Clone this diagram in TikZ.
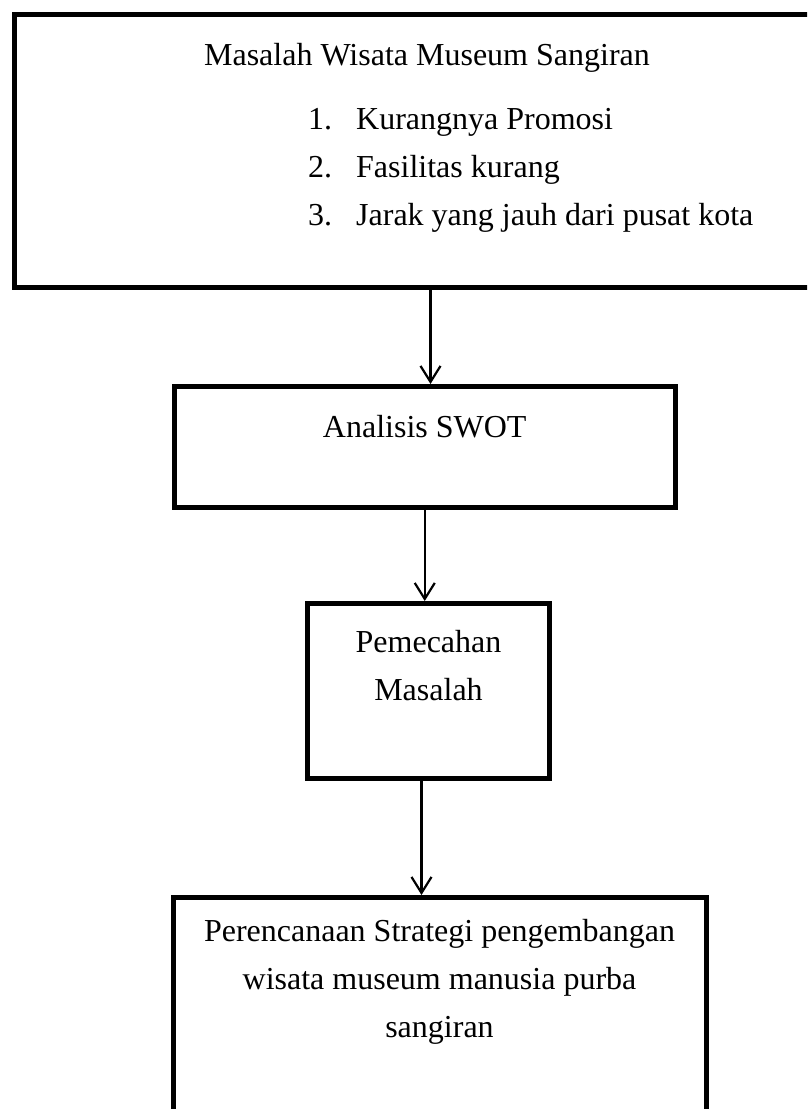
\documentclass[tikz,border=0pt]{standalone}
\usepackage{fontspec}
\setmainfont{Liberation Serif}
\usepackage{tikz}
\usetikzlibrary{arrows.meta,calc,positioning}
\tikzset{
  >={Straight Barb[length=16pt,width=20pt]}
}

\begin{document}
\begin{tikzpicture}[
    x=1pt,y=-1pt,
    font=\fontsize{32}{48}\selectfont,
    kotak/.style={rectangle,draw,line width=5pt,inner sep=0pt,anchor=north west},
    teks/.style={inner sep=0pt,anchor=base},
    panah/.style={->,line width=2.2pt}
  ]
    \useasboundingbox (0,0) rectangle (807,1109);
    \clip (0,0) rectangle (807,1109);

    \node (masalah) at (11.5,11.5) [kotak,minimum width=833,minimum height=273.5] {};
    \node (analisis) at (172,384) [kotak,minimum width=500.5,minimum height=121] {};
    \node (pemecahan) at (305,601) [kotak,minimum width=242,minimum height=175] {};
    \node (rencana) at (170.5,895) [kotak,minimum width=533,minimum height=245] {};

    % base of a multi-line node is its last line
    \node (judul) at ($(masalah.north)+(-3.5,54)$) [teks] {Masalah Wisata Museum Sangiran};
    \node (daftar) at (308,225) [teks,anchor=base west,align=left]
      {\makebox[48pt][l]{1.}Kurangnya Promosi\\\makebox[48pt][l]{2.}Fasilitas kurang\\\makebox[48pt][l]{3.}Jarak yang jauh dari pusat kota};
    \node (swot) at ($(analisis.north)+(0,53)$) [teks] {Analisis SWOT};
    \node (pecah) at ($(pemecahan.north)+(0,99)$) [teks,align=center] {Pemecahan\\Masalah};
    \node (strategi) at ($(rencana.north)+(0,142)$) [teks,align=center]
      {Perencanaan Strategi pengembangan\\wisata museum manusia purba\\sangiran};

    \draw[panah] (masalah.south) -- (masalah.south |- analisis.north);
    \draw[panah] (analisis.south) -- (analisis.south |- pemecahan.north);
    \draw[panah] ([xshift=-7pt]pemecahan.south) -- ([xshift=-7pt]pemecahan.south |- rencana.north);

  \end{tikzpicture}
\end{document}
